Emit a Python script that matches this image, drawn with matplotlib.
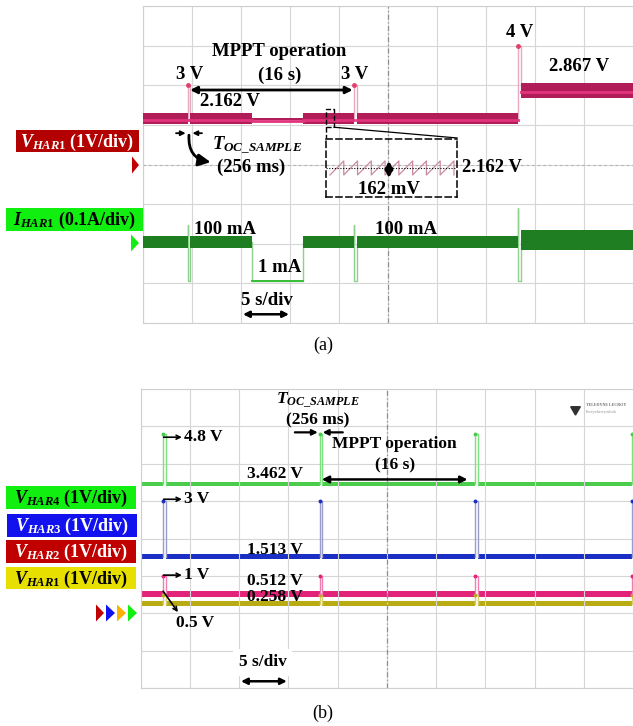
import matplotlib.pyplot as plt
from matplotlib.patches import Rectangle, Polygon

plt.rcParams['font.family'] = 'Liberation Serif'
plt.rcParams['font.weight'] = 'bold'
plt.rcParams['mathtext.fontset'] = 'custom'
plt.rcParams['mathtext.rm'] = 'Liberation Serif:bold'
plt.rcParams['mathtext.it'] = 'Liberation Serif:italic:bold'
plt.rcParams['mathtext.bf'] = 'Liberation Serif:bold'

W, H = 633, 726
t_oc = 0.256  # open-circuit sample time (s)

# (a) one harvester: V_HAR1 (1 V/div), I_HAR1 (0.1 A/div), 5 s/div
a_spike_t = [4.59, 21.53, 38.27]
a_spike_v = [3.0, 3.0, 4.0]
a_spike_i = [0.142, 0.142, 0.185]
a_seg_t0 = [0.0, 4.846, 11.12, 16.33, 21.786, 38.526]
a_seg_t1 = [4.59, 11.12, 16.33, 21.53, 38.27, 50.0]
a_v = [2.162, 2.162, 2.14, 2.162, 2.162, 2.867]
a_v_pp = [0.30, 0.30, 0.05, 0.30, 0.30, 0.38]
a_i = [0.100, 0.100, 0.001, 0.100, 0.100, 0.105]
a_i_pp = [0.030, 0.030, 0.004, 0.030, 0.030, 0.050]

# zoomed ripple of V_HAR1 (x: tooth index)
rip_x = [0, 1, 1, 2, 2, 3, 3, 4, 4, 5, 5, 6, 6, 7, 7, 8, 8, 9, 9]
rip_v = [2.081, 2.243, 2.081, 2.243, 2.081, 2.243, 2.081, 2.243, 2.081,
         2.243, 2.081, 2.243, 2.081, 2.243, 2.081, 2.243, 2.081, 2.243, 2.081]

# (b) four harvesters, 1 V/div, 5 s/div
b_spike_t = [2.33, 18.2, 34.0, 49.85]
b_names = ['HAR4', 'HAR3', 'HAR2', 'HAR1']
b_level = [3.462, 1.513, 0.512, 0.258]
b_peak = [4.8, 3.0, 1.0, 0.5]
b_pp = [0.10, 0.13, 0.14, 0.14]

I_ZERO = -1.95  # where 0 A of I_HAR1 sits on the V_HAR1 scale


def fx(x):
    return x / W


def fy(y):
    return 1 - y / H


def scope(ax, ylo):
    ax.set_xlim(0, 50)
    ax.set_ylim(ylo, ylo + 8)
    ax.set_xticks(range(0, 51, 5))
    ax.set_yticks(range(ylo, ylo + 9))
    ax.grid(True, color='#d6d6d6', lw=0.8)
    ax.tick_params(length=0, labelbottom=False, labelleft=False)
    for s in ax.spines.values():
        s.set_color('#cfcfcf')
    ax.spines['right'].set_visible(False)
    ax.axvline(25, color='#909090', lw=0.9, ls=(0, (4, 2, 1, 2)))


def step_path(t0s, t1s, levels, spike_t, spike_top, floor=None):
    xs, ys = [], []
    for k in range(len(t0s)):
        xs += [t0s[k], t1s[k]]
        ys += [levels[k], levels[k]]
        if k + 1 < len(t0s) and t1s[k] in spike_t:
            ts = t1s[k]
            top = spike_top[spike_t.index(ts)]
            if floor is None:
                xs += [ts, ts + t_oc]
                ys += [top, top]
            else:
                xs += [ts, ts, ts + t_oc]
                ys += [top, floor, floor]
    return xs, ys


def darrow(ax, p0, p1, ms=10, lw=2.0):
    ax.annotate('', xy=p1, xytext=p0,
                arrowprops=dict(arrowstyle='<|-|>', color='black', lw=lw,
                                mutation_scale=ms, shrinkA=0, shrinkB=0))


def arrow(ax, p0, p1, ms=10, lw=1.8, style='-|>', **kw):
    ax.annotate('', xy=p1, xytext=p0,
                arrowprops=dict(arrowstyle=style, color='black', lw=lw,
                                mutation_scale=ms, shrinkA=0, shrinkB=0, **kw))


fig = plt.figure(figsize=(W / 100, H / 100), dpi=100)

# ---------------- (a) ----------------
ax = fig.add_axes([fx(143), fy(323), fx(633 - 143), 317 / H])
scope(ax, -3)
ax.axhline(1, color='#b0b0b0', lw=0.8, ls=(0, (2, 3)))

# voltage trace
xs, ys = step_path(a_seg_t0, a_seg_t1, a_v, a_spike_t, a_spike_v)
ax.plot(xs, ys, color='#e6a9c0', lw=1.0, zorder=2)
for t0, t1, v, pp in zip(a_seg_t0, a_seg_t1, a_v, a_v_pp):
    ax.fill_between([t0, t1], v - pp / 2, v + pp / 2, color='#b01d58', lw=0,
                    zorder=3)
    ax.plot([t0, t1], [v - 0.03, v - 0.03], color='#e2347c', lw=2.0, zorder=4)
ax.plot(a_spike_t, a_spike_v, 'o', color='#e0406e', ms=2.5, zorder=4)

# current trace
ai = [i * 10 + I_ZERO for i in a_i]
xs, ys = step_path(a_seg_t0, a_seg_t1, ai, a_spike_t,
                   [i * 10 + I_ZERO for i in a_spike_i], floor=I_ZERO)
ax.plot(xs, ys, color='#8fd08f', lw=1.0, zorder=2)
for t0, t1, v, pp in zip(a_seg_t0, a_seg_t1, ai, a_i_pp):
    ax.fill_between([t0, t1], v - pp * 5, v + pp * 5, color='#1f7d22', lw=0,
                    zorder=3)
ax.plot([a_seg_t0[2], a_seg_t1[2]], [ai[2], ai[2]], color='#3cc03c', lw=1.4,
        zorder=4)

tk = dict(ha='center', va='center', fontsize=13.5, color='black')
ax.text(13.9, 3.84, 'MPPT operation', **tk)
ax.text(13.9, 3.26, '(16 s)', **tk)
ax.text(4.8, 3.26, '3 V', **tk)
ax.text(21.6, 3.26, '3 V', **tk)
darrow(ax, (4.8, 2.88), (21.4, 2.88))
ax.text(8.9, 2.60, '2.162 V', **tk)
ax.text(38.4, 4.34, '4 V', **tk)
ax.text(44.5, 3.48, '2.867 V', **tk)
arrow(ax, (3.37, 1.79), (4.35, 1.79), ms=7, lw=1.3)
arrow(ax, (6.02, 1.79), (5.05, 1.79), ms=7, lw=1.3)
arrow(ax, (4.69, 1.74), (6.9, 1.06), ms=18, lw=2.0,
      connectionstyle='arc3,rad=0.45')
ax.text(7.0, 1.46, r'$T_{OC\_SAMPLE}$', ha='left', va='center', fontsize=13.5)
ax.text(11.0, 0.93, '(256 ms)', **tk)
ax.text(5.2, -0.63, '100 mA', ha='left', va='center', fontsize=13.5)
ax.text(23.7, -0.63, '100 mA', ha='left', va='center', fontsize=13.5)
ax.text(13.9, -1.59, '1 mA', **tk)
ax.text(12.6, -2.42, '5 s/div', **tk)
darrow(ax, (10.2, -2.78), (14.9, -2.78), ms=9, lw=1.8)

# zoom marker and inset
ax.add_patch(Rectangle((18.67, 1.94), 0.82, 0.46, fill=False, ec='black',
                       lw=1.0, ls='--', zorder=5))
ax.plot([18.67, 18.67], [1.94, 1.67], color='black', lw=1.0, ls='--')
ax.plot([19.49, 32.04], [1.94, 1.67], color='black', lw=0.9)

ins = fig.add_axes([fx(326), fy(197), fx(131), 58 / H])
ins.set_facecolor('none')
ins.set_xlim(-0.29, 9.22)
ins.set_ylim(1.826, 2.497)
ins.set_xticks([])
ins.set_yticks([])
for s in ins.spines.values():
    s.set_linestyle((0, (4, 2.5)))
    s.set_linewidth(1.1)
ins.plot(rip_x, rip_v, color='#c98aa3', lw=0.9)
ins.axhline(2.162, color='black', lw=0.8, ls=(0, (1, 1.5)))
darrow(ins, (4.28, 2.045), (4.28, 2.245), ms=10, lw=2.4)
ins.text(4.3, 1.907, '162 mV', ha='center', va='center', fontsize=13.5)
ins.text(9.57, 2.162, '2.162 V', ha='left', va='center', fontsize=13.5,
         clip_on=False)

fig.text(fx(323), fy(345), '(a)', ha='center', va='center', fontsize=13,
         fontweight='normal')

# ---------------- (b) ----------------
bx = fig.add_axes([fx(140.5), fy(688), fx(633 - 140.5), 299 / H])
scope(bx, -2)

b_trace = ['#4ccc4c', '#1b2fc4', '#e2237a', '#b9ab14']
b_spike_c = ['#7fe07f', '#9a9ccc', '#ec7fb0', '#d8cf70']
edges = [0.0] + b_spike_t + [50.0]
for k in range(3, -1, -1):
    lv, pk, pp = b_level[k], b_peak[k], b_pp[k]
    for j in range(len(edges) - 1):
        t0 = edges[j] + (t_oc if j > 0 else 0)
        t1 = edges[j + 1]
        if t1 > t0:
            bx.fill_between([t0, t1], lv - pp / 2, lv + pp / 2,
                            color=b_trace[k], lw=0)
    for ts in b_spike_t:
        bx.plot([ts, ts, ts + t_oc, ts + t_oc], [lv, pk, pk, lv],
                color=b_spike_c[k], lw=1.0)
    bx.plot(b_spike_t, [pk] * len(b_spike_t), 'o', color=b_trace[k], ms=1.8)

tb = dict(ha='center', va='center', fontsize=12.5, color='black')
bx.text(18.0, 5.70, r'$T_{OC\_SAMPLE}$', **tb)
bx.text(18.0, 5.16, '(256 ms)', **tb)
arrow(bx, (15.67, 4.84), (18.0, 4.84), ms=8, lw=1.6)
arrow(bx, (20.54, 4.84), (18.5, 4.84), ms=8, lw=1.6)
bx.text(25.8, 4.52, 'MPPT operation', **tb)
bx.text(25.8, 3.96, '(16 s)', **tb)
bx.text(13.6, 3.72, '3.462 V', **tb)
darrow(bx, (18.4, 3.58), (33.2, 3.58), ms=10, lw=1.8)
bx.text(13.6, 1.68, '1.513 V', **tb)
bx.text(13.6, 0.85, '0.512 V', **tb)
bx.text(13.6, 0.43, '0.258 V', **tb)
for v, lab in zip([4.71, 3.05, 1.02], ['4.8 V', '3 V', '1 V']):
    arrow(bx, (2.35, v), (4.2, v), ms=7, lw=1.2, style='->')
    bx.text(4.4, v, lab, ha='left', va='center', fontsize=12.5)
arrow(bx, (2.3, 0.59), (3.8, 0.03), ms=7, lw=1.2, style='->')
bx.text(3.6, -0.27, '0.5 V', ha='left', va='center', fontsize=12.5)
bx.text(12.4, -1.31, '5 s/div', ha='center', va='center', fontsize=12.5,
        bbox=dict(facecolor='white', edgecolor='none', pad=4))
darrow(bx, (10.2, -1.82), (14.86, -1.82), ms=9, lw=1.8)
bx.text(45.2, 5.56, 'TELEDYNE LECROY', fontsize=3.0, color='#707070',
        ha='left', va='center')
bx.text(45.2, 5.38, 'Everywhereyoulook', fontsize=2.8, color='#909090',
        ha='left', va='center', fontweight='normal')
bx.plot([44.1], [5.47], marker=(3, 0, 180), color='#303030', ms=8)

fig.text(fx(323), fy(713), '(b)', ha='center', va='center', fontsize=13,
         fontweight='normal')

# ---------------- channel labels ----------------
labels = [
    (16, 139, 130, 152, '#b30000', 'white', r'$V_{HAR1}$ (1V/div)'),
    (6, 143, 208, 231, '#11ef11', 'black', r'$I_{HAR1}$ (0.1A/div)'),
    (6, 136, 486, 509, '#11ef11', 'black', r'$V_{HAR4}$ (1V/div)'),
    (7, 137, 514, 537, '#1212ee', 'white', r'$V_{HAR3}$ (1V/div)'),
    (6, 136, 540, 563, '#c00000', 'white', r'$V_{HAR2}$ (1V/div)'),
    (6, 136, 567, 589, '#e6df00', 'black', r'$V_{HAR1}$ (1V/div)'),
]
for x0, x1, y0, y1, bg, fg, txt in labels:
    fig.add_artist(Rectangle((fx(x0), fy(y1)), fx(x1 - x0), (y1 - y0) / H,
                             transform=fig.transFigure, color=bg, lw=0))
    fig.text(fx((x0 + x1) / 2), fy((y0 + y1) / 2 + 1), txt, ha='center',
             va='center', fontsize=13, color=fg)

markers = [
    (132, 139, 165, '#c00000'),
    (131, 139, 243, '#11ef11'),
    (96, 104, 613, '#c00000'),
    (106, 115, 613, '#1212ee'),
    (117, 126, 613, '#ffb000'),
    (128, 137, 613, '#11ef11'),
]
for x0, x1, yc, c in markers:
    fig.add_artist(Polygon([(fx(x0), fy(yc - 8.5)), (fx(x0), fy(yc + 8.5)),
                            (fx(x1), fy(yc))], closed=True,
                           transform=fig.transFigure, color=c, lw=0))

fig.savefig('out.png', dpi=100)
